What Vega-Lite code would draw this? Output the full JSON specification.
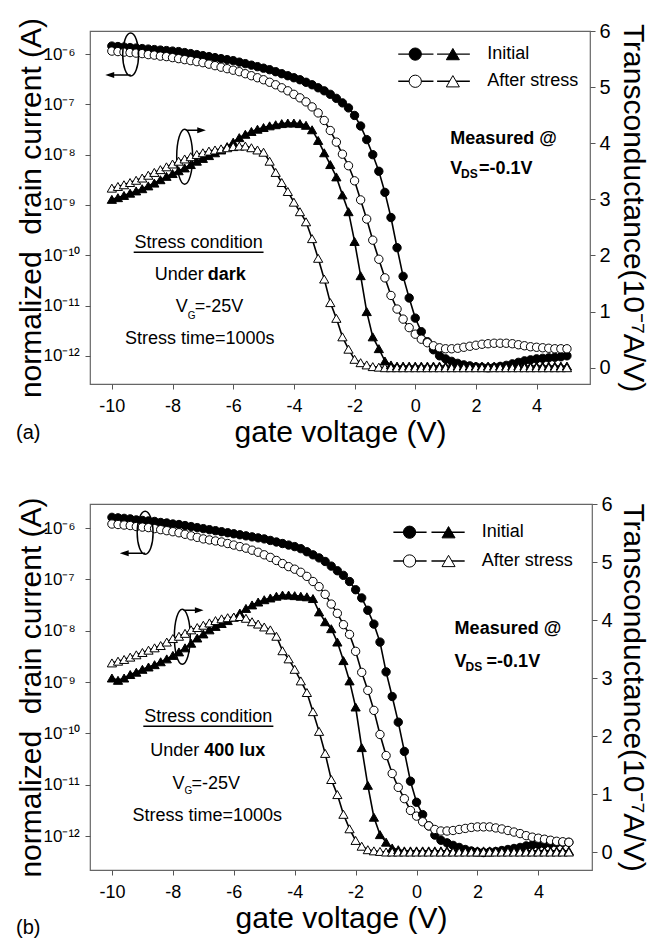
{
"$schema":"https://vega.github.io/schema/vega-lite/v6.json",
"padding":{"left":15,"top":16,"right":5,"bottom":0},
"spacing":45,
"config":{"font":"Liberation Sans","view":{"stroke":"#666","strokeWidth":1.2},"axis":{"grid":false,"domain":false,"tickColor":"#555","tickSize":5,"labelColor":"#000","titleColor":"#000","titleFontWeight":"normal","labelFont":"Liberation Sans","titleFont":"Liberation Sans"}},
"datasets":{
"a":[
{"x":-10,"i0":1.445e-6,"i1":1.148e-6,"g0":3.00,"g1":3.20},
{"x":-9.8,"i0":1.413e-6,"i1":1.122e-6,"g0":3.03,"g1":3.23},
{"x":-9.6,"i0":1.380e-6,"i1":1.096e-6,"g0":3.07,"g1":3.26},
{"x":-9.4,"i0":1.349e-6,"i1":1.072e-6,"g0":3.11,"g1":3.30},
{"x":-9.2,"i0":1.318e-6,"i1":1.047e-6,"g0":3.15,"g1":3.34},
{"x":-9.0,"i0":1.288e-6,"i1":1.023e-6,"g0":3.19,"g1":3.38},
{"x":-8.8,"i0":1.259e-6,"i1":9.772e-7,"g0":3.24,"g1":3.43},
{"x":-8.6,"i0":1.230e-6,"i1":9.550e-7,"g0":3.29,"g1":3.48},
{"x":-8.4,"i0":1.202e-6,"i1":9.120e-7,"g0":3.35,"g1":3.53},
{"x":-8.2,"i0":1.175e-6,"i1":8.913e-7,"g0":3.41,"g1":3.58},
{"x":-8.0,"i0":1.148e-6,"i1":8.511e-7,"g0":3.46,"g1":3.63},
{"x":-7.8,"i0":1.122e-6,"i1":8.128e-7,"g0":3.51,"g1":3.68},
{"x":-7.6,"i0":1.072e-6,"i1":7.762e-7,"g0":3.56,"g1":3.72},
{"x":-7.4,"i0":1.023e-6,"i1":7.413e-7,"g0":3.62,"g1":3.76},
{"x":-7.2,"i0":9.772e-7,"i1":7.079e-7,"g0":3.68,"g1":3.80},
{"x":-7.0,"i0":9.333e-7,"i1":6.761e-7,"g0":3.73,"g1":3.83},
{"x":-6.8,"i0":8.913e-7,"i1":6.310e-7,"g0":3.78,"g1":3.86},
{"x":-6.6,"i0":8.511e-7,"i1":5.888e-7,"g0":3.83,"g1":3.88},
{"x":-6.4,"i0":8.128e-7,"i1":5.495e-7,"g0":3.88,"g1":3.90},
{"x":-6.2,"i0":7.762e-7,"i1":5.129e-7,"g0":3.94,"g1":3.92},
{"x":-6.0,"i0":7.413e-7,"i1":4.786e-7,"g0":4.02,"g1":3.94},
{"x":-5.8,"i0":6.918e-7,"i1":4.467e-7,"g0":4.10,"g1":3.95},
{"x":-5.6,"i0":6.457e-7,"i1":4.074e-7,"g0":4.16,"g1":3.95},
{"x":-5.4,"i0":6.026e-7,"i1":3.715e-7,"g0":4.21,"g1":3.92},
{"x":-5.2,"i0":5.623e-7,"i1":3.388e-7,"g0":4.25,"g1":3.88},
{"x":-5.0,"i0":5.248e-7,"i1":3.090e-7,"g0":4.28,"g1":3.84},
{"x":-4.8,"i0":4.898e-7,"i1":2.754e-7,"g0":4.31,"g1":3.68},
{"x":-4.6,"i0":4.467e-7,"i1":2.455e-7,"g0":4.33,"g1":3.48},
{"x":-4.4,"i0":4.074e-7,"i1":2.138e-7,"g0":4.35,"g1":3.30},
{"x":-4.2,"i0":3.715e-7,"i1":1.862e-7,"g0":4.36,"g1":3.14},
{"x":-4.0,"i0":3.388e-7,"i1":1.585e-7,"g0":4.36,"g1":2.95},
{"x":-3.8,"i0":3.090e-7,"i1":1.349e-7,"g0":4.35,"g1":2.78},
{"x":-3.6,"i0":2.754e-7,"i1":1.122e-7,"g0":4.32,"g1":2.60},
{"x":-3.4,"i0":2.455e-7,"i1":8.913e-8,"g0":4.24,"g1":2.30},
{"x":-3.2,"i0":2.138e-7,"i1":6.761e-8,"g0":4.05,"g1":1.95},
{"x":-3.0,"i0":1.862e-7,"i1":4.786e-8,"g0":3.83,"g1":1.58},
{"x":-2.8,"i0":1.585e-7,"i1":3.020e-8,"g0":3.62,"g1":1.16},
{"x":-2.6,"i0":1.318e-7,"i1":1.778e-8,"g0":3.40,"g1":0.88},
{"x":-2.4,"i0":1.072e-7,"i1":1.023e-8,"g0":3.08,"g1":0.55},
{"x":-2.2,"i0":8.511e-8,"i1":6.026e-9,"g0":2.78,"g1":0.33},
{"x":-2.0,"i0":6.026e-8,"i1":3.020e-9,"g0":2.25,"g1":0.15},
{"x":-1.8,"i0":3.715e-8,"i1":1.259e-9,"g0":1.64,"g1":0.09},
{"x":-1.6,"i0":1.995e-8,"i1":5.248e-10,"g0":1.00,"g1":0.05},
{"x":-1.4,"i0":1.0e-8,"i1":1.995e-10,"g0":0.55,"g1":0.02},
{"x":-1.2,"i0":4.677e-9,"i1":8.318e-11,"g0":0.34,"g1":0.01},
{"x":-1.0,"i0":1.778e-9,"i1":3.548e-11,"g0":0.12,"g1":0},
{"x":-0.8,"i0":5.623e-10,"i1":1.585e-11,"g0":0.05,"g1":0},
{"x":-0.6,"i0":1.413e-10,"i1":8.511e-12,"g0":0.03,"g1":0},
{"x":-0.4,"i0":3.802e-11,"i1":5.370e-12,"g0":0.03,"g1":0},
{"x":-0.2,"i0":1.413e-11,"i1":3.631e-12,"g0":0.03,"g1":0},
{"x":0,"i0":5.623e-12,"i1":2.692e-12,"g0":0.03,"g1":0},
{"x":0.2,"i0":3.020e-12,"i1":2.138e-12,"g0":0.03,"g1":0},
{"x":0.4,"i0":1.905e-12,"i1":1.820e-12,"g0":0.03,"g1":0},
{"x":0.6,"i0":1.318e-12,"i1":1.585e-12,"g0":0.03,"g1":0},
{"x":0.8,"i0":1.0e-12,"i1":1.445e-12,"g0":0.03,"g1":0},
{"x":1.0,"i0":8.710e-13,"i1":1.380e-12,"g0":0.03,"g1":0},
{"x":1.2,"i0":7.762e-13,"i1":1.380e-12,"g0":0.03,"g1":0},
{"x":1.4,"i0":7.079e-13,"i1":1.413e-12,"g0":0.03,"g1":0},
{"x":1.6,"i0":6.607e-13,"i1":1.479e-12,"g0":0.03,"g1":0},
{"x":1.8,"i0":6.310e-13,"i1":1.549e-12,"g0":0.03,"g1":0},
{"x":2.0,"i0":6.026e-13,"i1":1.622e-12,"g0":0.03,"g1":0},
{"x":2.2,"i0":5.888e-13,"i1":1.698e-12,"g0":0.03,"g1":0},
{"x":2.4,"i0":5.754e-13,"i1":1.738e-12,"g0":0.03,"g1":0},
{"x":2.6,"i0":5.888e-13,"i1":1.778e-12,"g0":0.03,"g1":0},
{"x":2.8,"i0":6.166e-13,"i1":1.778e-12,"g0":0.03,"g1":0},
{"x":3.0,"i0":6.457e-13,"i1":1.778e-12,"g0":0.03,"g1":0},
{"x":3.2,"i0":6.918e-13,"i1":1.738e-12,"g0":0.03,"g1":0},
{"x":3.4,"i0":7.413e-13,"i1":1.660e-12,"g0":0.03,"g1":0},
{"x":3.6,"i0":7.943e-13,"i1":1.585e-12,"g0":0.03,"g1":0},
{"x":3.8,"i0":8.318e-13,"i1":1.514e-12,"g0":0.03,"g1":0},
{"x":4.0,"i0":8.710e-13,"i1":1.479e-12,"g0":0.03,"g1":0},
{"x":4.2,"i0":8.913e-13,"i1":1.445e-12,"g0":0.03,"g1":0},
{"x":4.4,"i0":9.120e-13,"i1":1.413e-12,"g0":0.03,"g1":0},
{"x":4.6,"i0":9.333e-13,"i1":1.380e-12,"g0":0.03,"g1":0},
{"x":4.8,"i0":9.550e-13,"i1":1.380e-12,"g0":0.03,"g1":0},
{"x":5.0,"i0":1.0e-12,"i1":1.380e-12,"g0":0.03,"g1":0}
],
"b":[
{"x":-10,"i0":1.622e-6,"i1":1.202e-6,"g0":3.00,"g1":3.26},
{"x":-9.8,"i0":1.585e-6,"i1":1.175e-6,"g0":2.96,"g1":3.29},
{"x":-9.6,"i0":1.549e-6,"i1":1.148e-6,"g0":3.00,"g1":3.32},
{"x":-9.4,"i0":1.514e-6,"i1":1.122e-6,"g0":3.06,"g1":3.36},
{"x":-9.2,"i0":1.445e-6,"i1":1.072e-6,"g0":3.10,"g1":3.40},
{"x":-9.0,"i0":1.413e-6,"i1":1.047e-6,"g0":3.15,"g1":3.44},
{"x":-8.8,"i0":1.380e-6,"i1":1.023e-6,"g0":3.19,"g1":3.48},
{"x":-8.6,"i0":1.349e-6,"i1":9.772e-7,"g0":3.23,"g1":3.52},
{"x":-8.4,"i0":1.288e-6,"i1":9.333e-7,"g0":3.28,"g1":3.56},
{"x":-8.2,"i0":1.259e-6,"i1":8.913e-7,"g0":3.33,"g1":3.62},
{"x":-8.0,"i0":1.202e-6,"i1":8.511e-7,"g0":3.39,"g1":3.68},
{"x":-7.8,"i0":1.175e-6,"i1":8.128e-7,"g0":3.45,"g1":3.72},
{"x":-7.6,"i0":1.122e-6,"i1":7.586e-7,"g0":3.52,"g1":3.77},
{"x":-7.4,"i0":1.072e-6,"i1":7.079e-7,"g0":3.60,"g1":3.83},
{"x":-7.2,"i0":1.023e-6,"i1":6.607e-7,"g0":3.69,"g1":3.87},
{"x":-7.0,"i0":9.772e-7,"i1":6.166e-7,"g0":3.76,"g1":3.91},
{"x":-6.8,"i0":9.333e-7,"i1":5.888e-7,"g0":3.83,"g1":3.95},
{"x":-6.6,"i0":8.913e-7,"i1":5.623e-7,"g0":3.89,"g1":3.99},
{"x":-6.4,"i0":8.511e-7,"i1":5.370e-7,"g0":3.94,"g1":4.02},
{"x":-6.2,"i0":8.128e-7,"i1":5.012e-7,"g0":3.99,"g1":4.04},
{"x":-6.0,"i0":7.762e-7,"i1":4.677e-7,"g0":4.05,"g1":4.05},
{"x":-5.8,"i0":7.413e-7,"i1":4.365e-7,"g0":4.12,"g1":4.06},
{"x":-5.6,"i0":7.079e-7,"i1":4.074e-7,"g0":4.20,"g1":4.03},
{"x":-5.4,"i0":6.761e-7,"i1":3.715e-7,"g0":4.26,"g1":3.97},
{"x":-5.2,"i0":6.457e-7,"i1":3.388e-7,"g0":4.31,"g1":3.93},
{"x":-5.0,"i0":6.166e-7,"i1":3.020e-7,"g0":4.35,"g1":3.88},
{"x":-4.8,"i0":5.754e-7,"i1":2.692e-7,"g0":4.38,"g1":3.83},
{"x":-4.6,"i0":5.370e-7,"i1":2.344e-7,"g0":4.41,"g1":3.72},
{"x":-4.4,"i0":5.012e-7,"i1":2.042e-7,"g0":4.43,"g1":3.47},
{"x":-4.2,"i0":4.677e-7,"i1":1.778e-7,"g0":4.43,"g1":3.33},
{"x":-4.0,"i0":4.365e-7,"i1":1.585e-7,"g0":4.42,"g1":3.15},
{"x":-3.8,"i0":3.981e-7,"i1":1.380e-7,"g0":4.41,"g1":2.95},
{"x":-3.6,"i0":3.467e-7,"i1":1.148e-7,"g0":4.40,"g1":2.75},
{"x":-3.4,"i0":3.020e-7,"i1":9.120e-8,"g0":4.37,"g1":2.42},
{"x":-3.2,"i0":2.630e-7,"i1":7.244e-8,"g0":4.14,"g1":2.08},
{"x":-3.0,"i0":2.239e-7,"i1":5.129e-8,"g0":3.97,"g1":1.70},
{"x":-2.8,"i0":1.820e-7,"i1":3.311e-8,"g0":3.85,"g1":1.25},
{"x":-2.6,"i0":1.479e-7,"i1":2.188e-8,"g0":3.62,"g1":0.99},
{"x":-2.4,"i0":1.202e-7,"i1":1.318e-8,"g0":3.30,"g1":0.65},
{"x":-2.2,"i0":9.120e-8,"i1":8.511e-9,"g0":2.95,"g1":0.40},
{"x":-2.0,"i0":6.310e-8,"i1":3.981e-9,"g0":2.50,"g1":0.20},
{"x":-1.8,"i0":4.365e-8,"i1":1.549e-9,"g0":1.80,"g1":0.10},
{"x":-1.6,"i0":2.512e-8,"i1":6.918e-10,"g0":1.15,"g1":0.04},
{"x":-1.4,"i0":1.349e-8,"i1":2.818e-10,"g0":0.60,"g1":0.02},
{"x":-1.2,"i0":6.026e-9,"i1":9.550e-11,"g0":0.30,"g1":0.01},
{"x":-1.0,"i0":1.585e-9,"i1":3.715e-11,"g0":0.17,"g1":0},
{"x":-0.8,"i0":5.248e-10,"i1":1.660e-11,"g0":0.07,"g1":0},
{"x":-0.6,"i0":1.660e-10,"i1":8.913e-12,"g0":0.04,"g1":0},
{"x":-0.4,"i0":4.467e-11,"i1":5.370e-12,"g0":0.02,"g1":0},
{"x":-0.2,"i0":1.175e-11,"i1":3.162e-12,"g0":0.02,"g1":0},
{"x":0,"i0":4.571e-12,"i1":2.455e-12,"g0":0.02,"g1":0},
{"x":0.2,"i0":2.630e-12,"i1":1.905e-12,"g0":0.02,"g1":0},
{"x":0.4,"i0":1.585e-12,"i1":1.585e-12,"g0":0.02,"g1":0},
{"x":0.6,"i0":1.047e-12,"i1":1.349e-12,"g0":0.02,"g1":0},
{"x":0.8,"i0":8.318e-13,"i1":1.259e-12,"g0":0.02,"g1":0},
{"x":1.0,"i0":7.413e-13,"i1":1.259e-12,"g0":0.02,"g1":0},
{"x":1.2,"i0":6.607e-13,"i1":1.288e-12,"g0":0.02,"g1":0},
{"x":1.4,"i0":6.026e-13,"i1":1.349e-12,"g0":0.02,"g1":0},
{"x":1.6,"i0":5.495e-13,"i1":1.413e-12,"g0":0.02,"g1":0},
{"x":1.8,"i0":5.129e-13,"i1":1.479e-12,"g0":0.02,"g1":0},
{"x":2.0,"i0":4.898e-13,"i1":1.514e-12,"g0":0.02,"g1":0},
{"x":2.2,"i0":4.786e-13,"i1":1.514e-12,"g0":0.02,"g1":0},
{"x":2.4,"i0":4.898e-13,"i1":1.514e-12,"g0":0.02,"g1":0},
{"x":2.6,"i0":5.012e-13,"i1":1.445e-12,"g0":0.02,"g1":0},
{"x":2.8,"i0":5.248e-13,"i1":1.380e-12,"g0":0.02,"g1":0},
{"x":3.0,"i0":5.495e-13,"i1":1.288e-12,"g0":0.02,"g1":0},
{"x":3.2,"i0":5.754e-13,"i1":1.202e-12,"g0":0.02,"g1":0},
{"x":3.4,"i0":6.026e-13,"i1":1.122e-12,"g0":0.02,"g1":0},
{"x":3.6,"i0":6.457e-13,"i1":1.023e-12,"g0":0.02,"g1":0},
{"x":3.8,"i0":6.761e-13,"i1":9.550e-13,"g0":0.02,"g1":0},
{"x":4.0,"i0":6.918e-13,"i1":9.120e-13,"g0":0.02,"g1":0},
{"x":4.2,"i0":7.079e-13,"i1":8.710e-13,"g0":0.02,"g1":0},
{"x":4.4,"i0":7.244e-13,"i1":8.318e-13,"g0":0.02,"g1":0},
{"x":4.6,"i0":7.413e-13,"i1":7.943e-13,"g0":0.02,"g1":0},
{"x":4.8,"i0":7.586e-13,"i1":7.762e-13,"g0":0.02,"g1":0},
{"x":5.0,"i0":7.586e-13,"i1":7.586e-13,"g0":0.02,"g1":0}
]
},
"vconcat":[
{
"width":500,"height":353,
"title":{"text":"(a)","orient":"bottom","anchor":"start","frame":"bounds","fontSize":20,"fontWeight":"normal","offset":-24,"dx":0,"color":"#000"},
"resolve":{"scale":{"y":"independent"}},
"layer":[
{
"encoding":{
"x":{"field":"x","type":"quantitative","scale":{"domain":[-10.72,5.76],"nice":false,"zero":false},"axis":{"values":[-10,-8,-6,-4,-2,0,2,4],"labelExpr":"datum.value + ''","title":"gate voltage (V)","titleFontSize":30,"labelFontSize":18,"labelPadding":8,"titlePadding":2}},
"y":{"field":"y","type":"quantitative","scale":{"type":"log","domain":[2.75e-13,2.88e-6],"nice":false},"axis":{"orient":"left","values":[1e-12,1e-11,1e-10,1e-9,1e-8,1e-7,1e-6],"labelExpr":"['10⁻¹²','10⁻¹¹','10⁻¹⁰','10⁻⁹','10⁻⁸','10⁻⁷','10⁻⁶'][round(log(datum.value)/LN10)+12]","labelAlign":"left","labelPadding":42,"labelFontSize":17,"title":"normalized\u00a0 drain current (A)","titleFontSize":30,"titleX":-50,"titleBaseline":"alphabetic"}}
},
"layer":[
{"data":{"name":"a"},"transform":[{"fold":["i0","i1"],"as":["s","y"]}],"mark":{"type":"line","color":"black","strokeWidth":1.6},"encoding":{"detail":{"field":"s","type":"nominal"}}},
{"data":{"name":"a"},"transform":[{"fold":["i0","i1"],"as":["s","y"]}],"mark":{"type":"point","shape":"circle","size":70,"filled":true,"stroke":"black","strokeWidth":1,"opacity":1},"encoding":{"fill":{"field":"s","type":"nominal","scale":{"domain":["i0","i1","g0","g1"],"range":["black","white","black","white"]},"legend":null}}},
{"data":{"values":[{"x":-0.56,"x2":0.6,"y":1.0e-6},{"x":0.72,"x2":1.8,"y":1.0e-6},{"x":-0.56,"x2":0.6,"y":2.884e-7},{"x":0.72,"x2":1.8,"y":2.884e-7},{"x":-9.28,"x2":-5.0,"y":1.148e-10}]},"mark":{"type":"rule","color":"black","strokeWidth":1.4},"encoding":{"x2":{"field":"x2"}}},
{"data":{"values":[{"x":0,"y":1.0e-6,"s":"i0"},{"x":0,"y":2.884e-7,"s":"i1"}]},"mark":{"type":"point","shape":"circle","size":150,"filled":true,"stroke":"black","strokeWidth":1,"opacity":1},"encoding":{"fill":{"field":"s","type":"nominal","scale":{"domain":["i0","i1","g0","g1"],"range":["black","white","black","white"]},"legend":null}}},
{"data":{"values":[{"x":1.24,"y":1.0e-6,"s":"g0"},{"x":1.24,"y":2.884e-7,"s":"g1"}]},"mark":{"type":"point","shape":"triangle-up","size":170,"filled":true,"stroke":"black","strokeWidth":1,"opacity":1},"encoding":{"fill":{"field":"s","type":"nominal","scale":{"domain":["i0","i1","g0","g1"],"range":["black","white","black","white"]},"legend":null}}},
{"data":{"values":[{"x":-7.14,"y":1.75e-10,"t":"Stress condition"},{"x":-7.1,"y":2.14e-12,"t":"Stress time=1000s"}]},"mark":{"type":"text","align":"center","baseline":"middle","fontSize":18,"color":"black"},"encoding":{"text":{"field":"t"}}},
{"data":{"values":[{"x":-6.97,"y":4.07e-11,"t":"Under"},{"x":-7.5,"y":9.33e-12,"t":"V"}]},"mark":{"type":"text","align":"right","baseline":"middle","fontSize":18,"color":"black"},"encoding":{"text":{"field":"t"}}},
{"data":{"values":[{"x":-7.27,"y":9.33e-12,"t":"=-25V"},{"x":2.37,"y":1.0e-6,"t":"Initial"},{"x":2.37,"y":2.884e-7,"t":"After stress"}]},"mark":{"type":"text","align":"left","baseline":"middle","fontSize":18,"color":"black"},"encoding":{"text":{"field":"t"}}},
{"data":{"values":[{"x":-6.84,"y":4.07e-11,"t":"dark"},{"x":1.15,"y":2.04e-8,"t":"Measured @"},{"x":1.15,"y":5.13e-9,"t":"V"},{"x":2.1,"y":5.13e-9,"t":"=-0.1V"}]},"mark":{"type":"text","align":"left","baseline":"middle","fontSize":18,"fontWeight":"bold","color":"black"},"encoding":{"text":{"field":"t"}}},
{"data":{"values":[{"x":-7.5,"y":6.17e-12,"t":"G"}]},"mark":{"type":"text","align":"left","baseline":"middle","fontSize":10,"color":"black"},"encoding":{"text":{"field":"t"}}},
{"data":{"values":[{"x":1.51,"y":4.07e-9,"t":"DS"}]},"mark":{"type":"text","align":"left","baseline":"middle","fontSize":12,"fontWeight":"bold","color":"black"},"encoding":{"text":{"field":"t"}}},
{"data":{"values":[{"x":-9.38,"y":9.77e-7,"k":"L"},{"x":-7.6,"y":9.12e-9,"k":"R"}]},"mark":{"type":"point","filled":false,"color":"black","strokeWidth":1.5,"size":1849,"opacity":1},"encoding":{"shape":{"field":"k","type":"nominal","scale":{"domain":["L","R"],"range":["M0,-1C0.204,-1 0.37,-0.552 0.37,0C0.37,0.552 0.204,1 0,1C-0.204,1 -0.37,0.552 -0.37,0C-0.37,-0.552 -0.204,-1 0,-1ZM0,0.95L-1.07,0.95M-1.07,0.95L-0.8,0.86L-0.8,1.04Z","M0,-1.28C0.204,-1.28 0.37,-0.707 0.37,0C0.37,0.707 0.204,1.28 0,1.28C-0.204,1.28 -0.37,0.707 -0.37,0C-0.37,-0.707 -0.204,-1.28 0,-1.28ZM0.05,-1.23L0.88,-1.23M0.88,-1.23L0.62,-1.32L0.62,-1.14Z"]},"legend":null}}}
]
},
{
"data":{"name":"a"},
"transform":[{"fold":["g0","g1"],"as":["s","y"]}],
"encoding":{
"x":{"field":"x","type":"quantitative","scale":{"domain":[-10.72,5.76],"nice":false,"zero":false},"axis":{"values":[-10,-8,-6,-4,-2,0,2,4],"labelExpr":"datum.value + ''","title":"gate voltage (V)","titleFontSize":30,"labelFontSize":18,"labelPadding":8,"titlePadding":2}},
"y":{"field":"y","type":"quantitative","scale":{"domain":[-0.29,6],"nice":false,"zero":false},"axis":{"orient":"right","values":[0,1,2,3,4,5,6],"labelFontSize":20,"labelPadding":4,"title":"Transconductance(10⁻⁷A/V)","titleFontSize":30,"titleX":33,"titleBaseline":"alphabetic"}}
},
"layer":[
{"mark":{"type":"line","color":"black","strokeWidth":1.6},"encoding":{"detail":{"field":"s","type":"nominal"}}},
{"mark":{"type":"point","shape":"triangle-up","size":85,"filled":true,"stroke":"black","strokeWidth":1,"opacity":1},"encoding":{"fill":{"field":"s","type":"nominal","scale":{"domain":["i0","i1","g0","g1"],"range":["black","white","black","white"]},"legend":null}}}
]
}
]
},
{
"width":502,"height":366,
"title":{"text":"(b)","orient":"bottom","anchor":"start","frame":"bounds","fontSize":20,"fontWeight":"normal","offset":-15,"dx":0,"color":"#000"},
"resolve":{"scale":{"y":"independent"}},
"layer":[
{
"encoding":{
"x":{"field":"x","type":"quantitative","scale":{"domain":[-10.72,5.76],"nice":false,"zero":false},"axis":{"values":[-10,-8,-6,-4,-2,0,2,4],"labelExpr":"datum.value + ''","title":"gate voltage (V)","titleFontSize":30,"labelFontSize":18,"labelPadding":8,"titlePadding":2}},
"y":{"field":"y","type":"quantitative","scale":{"type":"log","domain":[2.19e-13,2.95e-6],"nice":false},"axis":{"orient":"left","values":[1e-12,1e-11,1e-10,1e-9,1e-8,1e-7,1e-6],"labelExpr":"['10⁻¹²','10⁻¹¹','10⁻¹⁰','10⁻⁹','10⁻⁸','10⁻⁷','10⁻⁶'][round(log(datum.value)/LN10)+12]","labelAlign":"left","labelPadding":42,"labelFontSize":17,"title":"normalized\u00a0 drain current (A)","titleFontSize":30,"titleX":-50,"titleBaseline":"alphabetic"}}
},
"layer":[
{"data":{"name":"b"},"transform":[{"fold":["i0","i1"],"as":["s","y"]}],"mark":{"type":"line","color":"black","strokeWidth":1.6},"encoding":{"detail":{"field":"s","type":"nominal"}}},
{"data":{"name":"b"},"transform":[{"fold":["i0","i1"],"as":["s","y"]}],"mark":{"type":"point","shape":"circle","size":70,"filled":true,"stroke":"black","strokeWidth":1,"opacity":1},"encoding":{"fill":{"field":"s","type":"nominal","scale":{"domain":["i0","i1","g0","g1"],"range":["black","white","black","white"]},"legend":null}}},
{"data":{"values":[{"x":-0.76,"x2":0.33,"y":8.318e-7},{"x":0.49,"x2":1.58,"y":8.318e-7},{"x":-0.76,"x2":0.33,"y":2.291e-7},{"x":0.49,"x2":1.58,"y":2.291e-7},{"x":-8.97,"x2":-4.7,"y":1.38e-10}]},"mark":{"type":"rule","color":"black","strokeWidth":1.4},"encoding":{"x2":{"field":"x2"}}},
{"data":{"values":[{"x":-0.23,"y":8.318e-7,"s":"i0"},{"x":-0.23,"y":2.291e-7,"s":"i1"}]},"mark":{"type":"point","shape":"circle","size":150,"filled":true,"stroke":"black","strokeWidth":1,"opacity":1},"encoding":{"fill":{"field":"s","type":"nominal","scale":{"domain":["i0","i1","g0","g1"],"range":["black","white","black","white"]},"legend":null}}},
{"data":{"values":[{"x":1.05,"y":8.318e-7,"s":"g0"},{"x":1.05,"y":2.291e-7,"s":"g1"}]},"mark":{"type":"point","shape":"triangle-up","size":170,"filled":true,"stroke":"black","strokeWidth":1,"opacity":1},"encoding":{"fill":{"field":"s","type":"nominal","scale":{"domain":["i0","i1","g0","g1"],"range":["black","white","black","white"]},"legend":null}}},
{"data":{"values":[{"x":-6.84,"y":2.09e-10,"t":"Stress condition"},{"x":-6.87,"y":2.45e-12,"t":"Stress time=1000s"}]},"mark":{"type":"text","align":"center","baseline":"middle","fontSize":18,"color":"black"},"encoding":{"text":{"field":"t"}}},
{"data":{"values":[{"x":-7.13,"y":4.47e-11,"t":"Under"},{"x":-7.62,"y":1.02e-11,"t":"V"}]},"mark":{"type":"text","align":"right","baseline":"middle","fontSize":18,"color":"black"},"encoding":{"text":{"field":"t"}}},
{"data":{"values":[{"x":-7.39,"y":1.02e-11,"t":"=-25V"},{"x":2.14,"y":8.318e-7,"t":"Initial"},{"x":2.14,"y":2.291e-7,"t":"After stress"}]},"mark":{"type":"text","align":"left","baseline":"middle","fontSize":18,"color":"black"},"encoding":{"text":{"field":"t"}}},
{"data":{"values":[{"x":-6.97,"y":4.47e-11,"t":"400 lux"},{"x":1.25,"y":1.07e-8,"t":"Measured @"},{"x":1.25,"y":2.45e-9,"t":"V"},{"x":2.3,"y":2.45e-9,"t":"=-0.1V"}]},"mark":{"type":"text","align":"left","baseline":"middle","fontSize":18,"fontWeight":"bold","color":"black"},"encoding":{"text":{"field":"t"}}},
{"data":{"values":[{"x":-7.62,"y":7.41e-12,"t":"G"}]},"mark":{"type":"text","align":"left","baseline":"middle","fontSize":10,"color":"black"},"encoding":{"text":{"field":"t"}}},
{"data":{"values":[{"x":1.61,"y":1.95e-9,"t":"DS"}]},"mark":{"type":"text","align":"left","baseline":"middle","fontSize":12,"fontWeight":"bold","color":"black"},"encoding":{"text":{"field":"t"}}},
{"data":{"values":[{"x":-8.91,"y":8.13e-7,"k":"L"},{"x":-7.69,"y":7.67e-9,"k":"R"}]},"mark":{"type":"point","filled":false,"color":"black","strokeWidth":1.5,"size":1849,"opacity":1},"encoding":{"shape":{"field":"k","type":"nominal","scale":{"domain":["L","R"],"range":["M0,-1C0.232,-1 0.42,-0.552 0.42,0C0.42,0.552 0.232,1 0,1C-0.232,1 -0.42,0.552 -0.42,0C-0.42,-0.552 -0.232,-1 0,-1ZM-0.3,0.77L-1.35,0.77M-1.35,0.77L-1.08,0.68L-1.08,0.86Z","M0,-1.05C0.221,-1.05 0.4,-0.58 0.4,0C0.4,0.58 0.221,1.05 0,1.05C-0.221,1.05 -0.4,0.58 -0.4,0C-0.4,-0.58 -0.221,-1.05 0,-1.05ZM0.05,-1.03L0.98,-1.03M0.98,-1.03L0.72,-1.12L0.72,-0.94Z"]},"legend":null}}}
]
},
{
"data":{"name":"b"},
"transform":[{"fold":["g0","g1"],"as":["s","y"]}],
"encoding":{
"x":{"field":"x","type":"quantitative","scale":{"domain":[-10.72,5.76],"nice":false,"zero":false},"axis":{"values":[-10,-8,-6,-4,-2,0,2,4],"labelExpr":"datum.value + ''","title":"gate voltage (V)","titleFontSize":30,"labelFontSize":18,"labelPadding":8,"titlePadding":2}},
"y":{"field":"y","type":"quantitative","scale":{"domain":[-0.31,6],"nice":false,"zero":false},"axis":{"orient":"right","values":[0,1,2,3,4,5,6],"labelFontSize":20,"labelPadding":4,"title":"Transconductance(10⁻⁷A/V)","titleFontSize":30,"titleX":31,"titleBaseline":"alphabetic"}}
},
"layer":[
{"mark":{"type":"line","color":"black","strokeWidth":1.6},"encoding":{"detail":{"field":"s","type":"nominal"}}},
{"mark":{"type":"point","shape":"triangle-up","size":85,"filled":true,"stroke":"black","strokeWidth":1,"opacity":1},"encoding":{"fill":{"field":"s","type":"nominal","scale":{"domain":["i0","i1","g0","g1"],"range":["black","white","black","white"]},"legend":null}}}
]
}
]
}
]
}
